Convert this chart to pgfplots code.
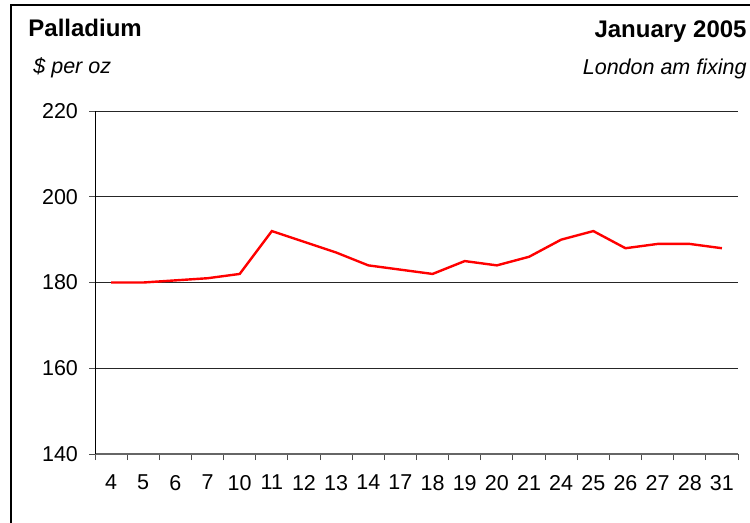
\documentclass[border=0pt]{standalone}
\usepackage{pgfplots}
\pgfplotsset{compat=1.18}
\usepackage{fontspec}
\setmainfont{Liberation Sans}

\pgfplotstableread{
x y
0 180
1 180
2 180.5
3 181
4 182
5 192
6 189.5
7 187
8 184
9 183
10 182
11 185
12 184
13 186
14 190
15 192
16 188
17 189
18 189
19 188
}\palladium

\begin{document}
\begin{tikzpicture}
\path[use as bounding box] (0,0) rectangle (375bp,-261.5bp);
\draw[line width=0.6bp] (5.5bp,-263bp) -- (5.5bp,-2.5bp) -- (377bp,-2.5bp);

\node[inner sep=0pt,anchor=base west,font=\fontsize{12bp}{14bp}\selectfont\bfseries] at (14bp,-18bp) {Palladium};
\node[inner sep=0pt,anchor=base west,font=\fontsize{10.75bp}{13bp}\selectfont\itshape] at (16.5bp,-36.5bp) {\$ per oz};
\node[inner sep=0pt,anchor=base east,font=\fontsize{12bp}{14bp}\selectfont\bfseries] at (373.5bp,-18.5bp) {January 2005};
\node[inner sep=0pt,anchor=base east,font=\fontsize{10.75bp}{13bp}\selectfont\itshape] at (373.5bp,-37bp) {London am fixing};

\begin{axis}[
    at={(47.5bp,-227bp)}, anchor=south west,
    scale only axis, width=321.5bp, height=171.5bp,
    xmin=-0.5, xmax=19.5,
    ymin=140, ymax=220,
    axis x line*=bottom, axis y line*=left,
    x axis line style={draw=black!60, line width=0.6bp},
    y axis line style={draw=black, line width=0.5bp},
    xtick={0,...,19},
    xticklabels={4,5,6,7,10,11,12,13,14,17,18,19,20,21,24,25,26,27,28,31},
    minor xtick={-0.5,0.5,...,19.5},
    major x tick style={draw=none},
    minor x tick style={draw=black!70, line width=0.5bp},
    ytick={140,160,...,220},
    y tick style={draw=black!70, line width=0.5bp},
    tick align=outside,
    major tick length=3bp, minor tick length=3bp,
    ymajorgrids=true,
    grid style={draw=black!85, line width=0.5bp},
    tick label style={font=\fontsize{10.75bp}{13bp}\selectfont},
    /pgf/number format/assume math mode=true,
    yticklabel style={xshift=-2bp},
    xticklabel style={yshift=-4bp},
    clip=false,
]
\addplot[color=red, line width=1.2bp] table[x=x,y=y] {\palladium};
\end{axis}
\end{tikzpicture}
\end{document}
